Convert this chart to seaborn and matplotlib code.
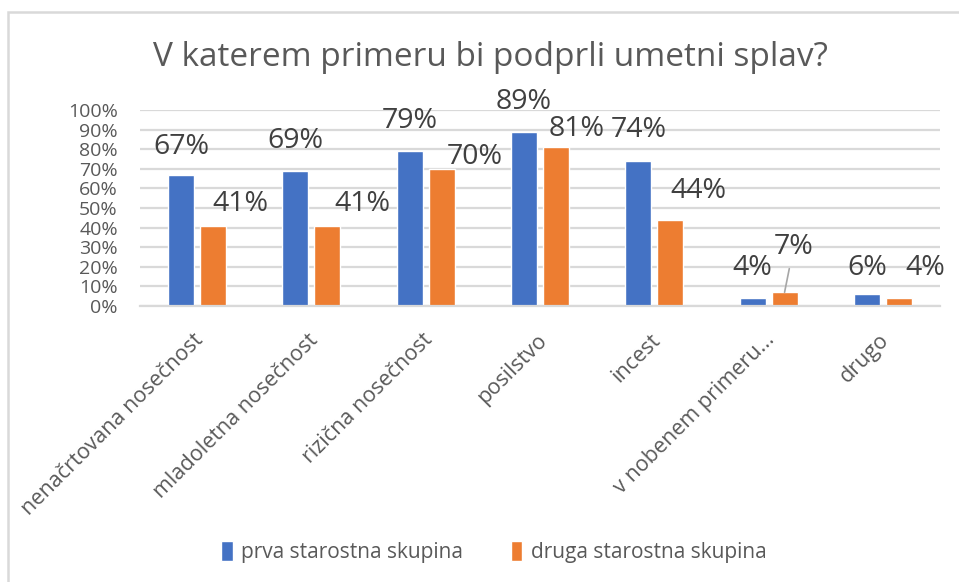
import pandas as pd
import matplotlib
matplotlib.use("Agg")
import matplotlib.pyplot as plt
import matplotlib.transforms as mtransforms
from matplotlib.patches import Rectangle
import seaborn as sns

# data
categories = ["nenačrtovana nosečnost", "mladoletna nosečnost", "rizična nosečnost",
              "posilstvo", "incest", "v nobenem primeru...", "drugo"]
prva = [0.67, 0.69, 0.79, 0.89, 0.74, 0.04, 0.06]
druga = [0.41, 0.41, 0.70, 0.81, 0.44, 0.07, 0.04]
series = ["prva starostna skupina", "druga starostna skupina"]
yticks = [i / 10 for i in range(11)]

# manual label nudges (pixels), like the hand-placed labels in the original
blue_nudge = [(0, 28), (0, 30), (0, 30), (0, 30), (0, 31), (0, 30), (0, 26)]
orange_nudge = [(27, 22), (35, 22), (33, 12), (21, 18), (28, 29), (9, 45), (26, 30)]

df = pd.DataFrame({
    "kategorija": categories * 2,
    "skupina": [series[0]] * len(categories) + [series[1]] * len(categories),
    "delez": prva + druga,
})

sns.set_theme(style="white")
plt.rcParams["font.family"] = ["Open Sans", "DejaVu Sans"]
txt = "#595959"

fig = plt.figure(figsize=(9.59, 5.82), dpi=100)
ax = fig.add_axes([140 / 959, 1 - 306 / 582, 800 / 959, 196 / 582])

sns.barplot(data=df, x="kategorija", y="delez", hue="skupina", order=categories,
            hue_order=series, palette=["#4472C4", "#ED7D31"], width=0.56, gap=0.19,
            saturation=1, ax=ax, legend=True)

ax.set_ylim(0, 1)
ax.set_xlim(-0.5, len(categories) - 0.5)
ax.set_yticks(yticks)
ax.set_yticklabels([f"{int(round(t * 100))}%" for t in yticks], fontsize=14, color=txt)
ax.yaxis.grid(True, color="#d9d9d9", lw=1.6)
ax.set_axisbelow(True)
ax.tick_params(axis="y", length=0, pad=16)
ax.tick_params(axis="x", length=0, pad=17)
for s in ["top", "right", "left"]:
    ax.spines[s].set_visible(False)
ax.spines["bottom"].set_color("#d9d9d9")
ax.spines["bottom"].set_linewidth(1.6)
ax.set_xlabel("")
ax.set_ylabel("")

ax.set_xticks(range(len(categories)))
ax.set_xticklabels(categories, rotation=45, ha="right", va="top",
                   rotation_mode="anchor", fontsize=15.5, color=txt)
shift = mtransforms.ScaledTranslation(-4 / 100, 0, fig.dpi_scale_trans)
for lab in ax.get_xticklabels():
    lab.set_transform(lab.get_transform() + shift)

# data labels
for cont, vals, nudge in zip(ax.containers, [prva, druga], [blue_nudge, orange_nudge]):
    for bar, v, (dx, dy) in zip(cont, vals, nudge):
        xc = bar.get_x() + bar.get_width() / 2
        arrow = None
        if dy > 40:
            arrow = dict(arrowstyle="-", color="#a6a6a6", lw=1.2, shrinkA=3, shrinkB=0)
        ax.annotate(f"{int(round(v * 100))}%", xy=(xc, v), xytext=(dx, dy),
                    textcoords="offset pixels", ha="center", va="center",
                    fontsize=20.5, color="#404040", annotation_clip=False,
                    arrowprops=arrow)

fig.text(0.511, 1 - 57 / 582, "V katerem primeru bi podprli umetni splav?",
         ha="center", va="center", fontsize=24, color=txt)

handles, labels = ax.get_legend_handles_labels()
ax.legend_.remove()
fig.legend(handles, labels, loc="center", bbox_to_anchor=(0.515, 1 - 552 / 582),
           ncol=2, frameon=False, fontsize=15, labelcolor=txt,
           handlelength=0.55, handleheight=1.1, handletextpad=0.4, columnspacing=2.3)

# chart border (only top and left edges visible in the crop)
fig.add_artist(Rectangle((8 / 959, -0.2), 1.2, 1.2 - 12 / 582, transform=fig.transFigure,
                         fill=False, edgecolor="#d9d9d9", lw=1.8))

fig.savefig("out.png", dpi=100)
